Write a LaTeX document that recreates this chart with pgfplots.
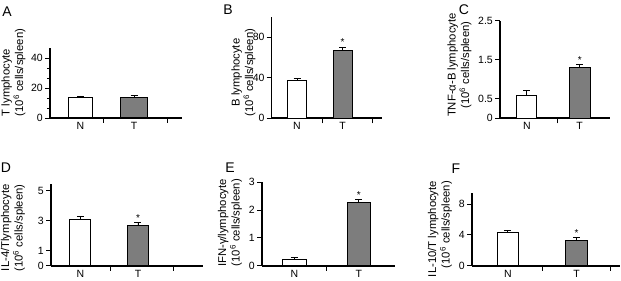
\documentclass[border=0pt]{standalone}
\usepackage{pgfplots}
\pgfplotsset{compat=1.18}
\usepackage{fontspec}
\setmainfont{Liberation Sans}

\definecolor{tbar}{RGB}{125,125,125}

\pgfplotsset{
  panel/.style={
    scale only axis, anchor=south west, clip=false,
    axis x line=bottom, axis y line=left,
    x axis line style={-, line width=2.3pt},
    y axis line style={-, line width=1.5pt},
    tick align=outside, major tick length=5pt, minor tick length=3pt,
    tick style={black, line width=0.9pt},
    ymin=0,
    xticklabels={},
    extra x ticks={1,2}, extra x tick labels={N,T},
    extra x tick style={major tick length=0pt, tick style={draw=none}},
    ticklabel style={font=\fontsize{10.5}{12}\selectfont},
    /pgf/number format/assume math mode=true,
    yticklabel style={/pgf/number format/fixed, inner sep=2pt},
    xticklabel style={inner sep=4pt},
  },
  nbar/.style={ybar, bar shift=0pt, fill=white, draw=black, line width=1pt,
    error bars/y dir=plus, error bars/y explicit,
    error bars/error bar style={line width=0.9pt, black},
    error bars/error mark options={rotate=90, mark size=3.5pt, line width=0.9pt, black}},
  tbar/.style={nbar, fill=tbar},
}
\newcommand{\ylab}[4]{\node[rotate=90, align=#3, font=\fontsize{11.3}{13.5}\selectfont] at (#1pt,#2pt) {#4};}
\newcommand{\plab}[3]{\node[font=\fontsize{14}{14}\selectfont] at (#1pt,#2pt) {#3};}
\newcommand{\signif}[2]{\node[anchor=south, inner sep=1pt, font=\fontsize{10}{10}\selectfont] at (axis cs:2,#1+#2) {*};}

\begin{document}
\begin{tikzpicture}[x=1pt, y=1pt]
\useasboundingbox (0,0) rectangle (621,281);

% A: T lymphocyte
\begin{axis}[panel, at={(50pt,163pt)}, width=132pt, height=70pt,
  xmin=0.432, xmax=2.89, ymax=46.7, ytick={0,20,40}, minor y tick num=2,
  xtick={1.42,2.61}]
  \addplot[nbar, bar width=24pt] coordinates {(1,14.0) +- (0,0.7)};
  \addplot[tbar, bar width=27pt] coordinates {(2,13.5) +- (0,1.4)};
\end{axis}

% B: B lymphocyte
\begin{axis}[panel, at={(271.7pt,162.7pt)}, width=110.3pt, height=101.5pt,
  xmin=0.444, xmax=2.868, ymax=100, ytick={0,40,80}, xtick={1.57,2.65}]
  \addplot[nbar, bar width=19.5pt] coordinates {(1,37.3) +- (0,1.5)};
  \addplot[tbar, bar width=19pt] coordinates {(2,66.8) +- (0,3.3)};
  \signif{66.8}{3.3}
\end{axis}

% C: TNF-alpha B lymphocyte
\begin{axis}[panel, at={(500pt,162.7pt)}, width=110pt, height=97.6pt,
  xmin=0.493, xmax=2.573, ymax=2.5, ytick={0,0.5,1.5,2.5}, xtick={1.57}]
  \addplot[nbar, bar width=20.3pt] coordinates {(1,0.58) +- (0,0.14)};
  \addplot[tbar, bar width=20.7pt] coordinates {(2,1.31) +- (0,0.07)};
  \signif{1.31}{0.07}
\end{axis}

% D: IL-4 T lymphocyte
\begin{axis}[panel, at={(51pt,15.3pt)}, width=152pt, height=81.4pt,
  xmin=0.492, xmax=3.127, ymax=5.43, ytick={0,1,3,5}, xtick={1.515,2.61}]
  \addplot[nbar, bar width=20.7pt] coordinates {(1,3.1) +- (0,0.2)};
  \addplot[tbar, bar width=20.7pt] coordinates {(2,2.7) +- (0,0.2)};
  \signif{2.7}{0.2}
\end{axis}

% E: IFN-gamma lymphocyte
\begin{axis}[panel, at={(262pt,15.3pt)}, width=133pt, height=83.4pt,
  xmin=0.494, xmax=2.565, ymax=3, ytick={0,1,2,3}, xtick={1.49},
  y axis line style={line width=2.2pt}]
  \addplot[nbar, bar width=24.3pt] coordinates {(1,0.24) +- (0,0.06)};
  \addplot[tbar, bar width=22.7pt] coordinates {(2,2.28) +- (0,0.1)};
  \signif{2.28}{0.1}
\end{axis}

% F: IL-10 T lymphocyte
\begin{axis}[panel, at={(472pt,15.3pt)}, width=148pt, height=73pt,
  xmin=0.48, xmax=2.63, ymax=9.48, ytick={0,4,8}, xtick={1.51,2.49},
  y axis line style={line width=2.6pt}]
  \addplot[nbar, bar width=21pt] coordinates {(1,4.28) +- (0,0.3)};
  \addplot[tbar, bar width=21.3pt] coordinates {(2,3.24) +- (0,0.4)};
  \signif{3.24}{0.4}
\end{axis}

% axis titles
\ylab{13.5}{208.5}{left}{T lymphocyte\\(10\textsuperscript{6} cells/spleen)}
\ylab{243.5}{208.5}{center}{B lymphocyte\\(10\textsuperscript{6} cells/spleen)}
\ylab{459.5}{216}{center}{TNF-α-B lymphocyte\\(10\textsuperscript{6} cells/spleen)}
\ylab{13}{53}{right}{IL-4/Tlymphocyte\\(10\textsuperscript{6} cells/spleen)}
\ylab{230}{58}{right}{IFN-γ/lymphocyte\\(10\textsuperscript{6} cells/spleen)}
\ylab{440}{52}{right}{IL-10/T lymphocyte\\(10\textsuperscript{6} cells/spleen)}

% panel letters
\plab{7}{269}{A}
\plab{228}{271}{B}
\plab{464}{271}{C}
\plab{6}{113}{D}
\plab{230}{113}{E}
\plab{456}{112}{F}
\end{tikzpicture}
\end{document}
